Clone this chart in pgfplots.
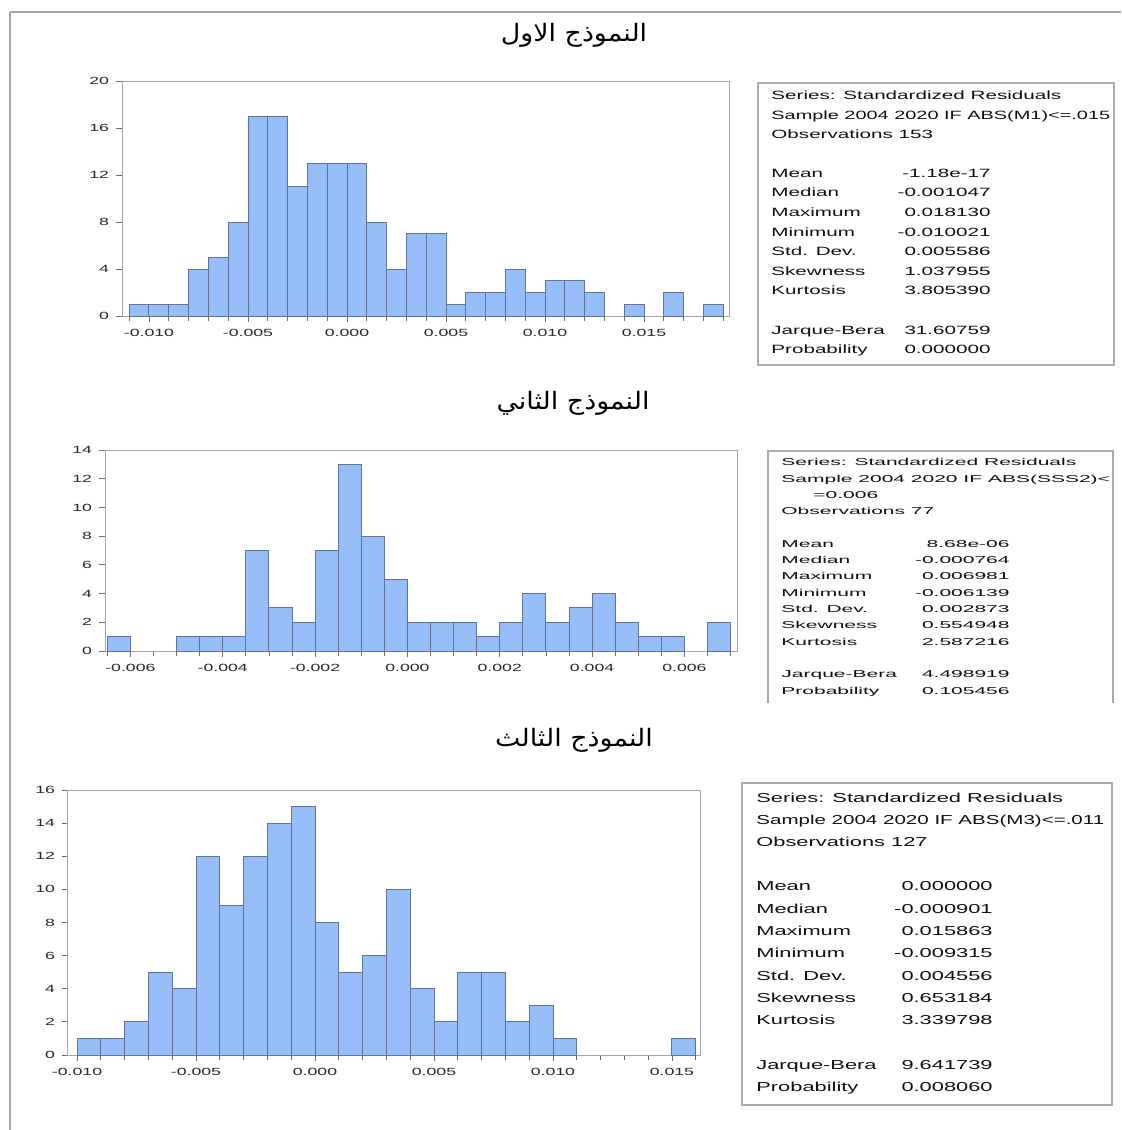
\documentclass[border=0pt]{standalone}
\usepackage{fontspec}
\usepackage{pgfplots}
\pgfplotsset{compat=1.18}
\TeXXeTstate=1
\newfontfamily\arabicfont[Script=Arabic,FakeStretch=1.12]{DejaVu Sans}
\newfontfamily\tickf[FakeStretch=1.7]{Liberation Sans}
\newfontfamily\sA[FakeStretch=1.72]{Liberation Sans}
\newfontfamily\sAs[FakeStretch=1.66]{Liberation Sans}
\newfontfamily\sB[FakeStretch=2.1]{Liberation Sans}
\newfontfamily\sC[FakeStretch=1.68]{Liberation Sans}
\newfontfamily\sCs[FakeStretch=1.58]{Liberation Sans}
\definecolor{barfill}{RGB}{150,190,248}
\definecolor{baredge}{RGB}{95,115,150}
\definecolor{framec}{RGB}{165,165,165}
\definecolor{tickc}{RGB}{110,110,110}
\definecolor{labc}{RGB}{40,40,40}
\definecolor{txtc}{RGB}{15,15,15}
\definecolor{boxc}{RGB}{170,170,170}
\pgfplotsset{
  hist/.style={
    scale only axis, anchor=south west,
    axis line style={framec, line width=0.5pt},
    tick pos=left, tick align=outside,
    major tick length=3pt, minor tick length=2.5pt,
    every tick/.style={tickc, line width=0.4pt},
    ymin=0,
    scaled x ticks=false, scaled y ticks=false,
    tick label style={font=\tickf\fontsize{5.2}{6}\selectfont, text=labc},
    /pgf/number format/assume math mode=true,
  },
  bars/.style={ybar, bar width=0.001, bar shift=0pt, fill=barfill, draw=baredge, line width=0.45pt},
  bars2/.style={ybar, bar width=0.0005, bar shift=0pt, fill=barfill, draw=baredge, line width=0.45pt},
}
\newcommand\srow[6]{%
  \node[anchor=base west,inner sep=0,font=#1,text=txtc] at (#2,#4) {#5};
  \node[anchor=base east,inner sep=0,font=#1,text=txtc] at (#3,#4) {#6};}
\newcommand\sline[4]{\node[anchor=base west,inner sep=0,font=#1,text=txtc] at (#2,#3) {#4};}
\begin{document}
\begin{tikzpicture}
\useasboundingbox (0,0) rectangle (560.5pt,-565pt);

% ---------- Plot 1 ----------
\begin{axis}[hist, at={(61pt,-158pt)}, width=303.5pt, height=117.5pt,
  xmin=-0.01136, xmax=0.01929, ymax=20, ytick={0,4,8,12,16,20},
  xtick={-0.010,-0.005,0,0.005,0.010,0.015},
  xticklabels={-0.010,-0.005,0.000,0.005,0.010,0.015},
  minor xtick={-0.011,-0.009,-0.008,-0.007,-0.006,-0.004,-0.003,-0.002,-0.001,0.001,0.002,0.003,0.004,0.006,0.007,0.008,0.009,0.011,0.012,0.013,0.014,0.016,0.017,0.018,0.019}]
\addplot[bars] coordinates {
(-0.0105,1) (-0.0095,1) (-0.0085,1) (-0.0075,4) (-0.0065,5) (-0.0055,8)
(-0.0045,17) (-0.0035,17) (-0.0025,11) (-0.0015,13) (-0.0005,13) (0.0005,13)
(0.0015,8) (0.0025,4) (0.0035,7) (0.0045,7) (0.0055,1) (0.0065,2) (0.0075,2)
(0.0085,4) (0.0095,2) (0.0105,3) (0.0115,3) (0.0125,2) (0.0145,1) (0.0165,2) (0.0185,1)};
\end{axis}

% ---------- Plot 2 ----------
\begin{axis}[hist, at={(52.5pt,-325.5pt)}, width=316.5pt, height=100.5pt,
  xmin=-0.00655, xmax=0.00716, ymax=14, ytick={0,2,4,6,8,10,12,14},
  xtick={-0.006,-0.004,-0.002,0,0.002,0.004,0.006},
  xticklabels={-0.006,-0.004,-0.002,0.000,0.002,0.004,0.006},
  minor xtick={-0.0065,-0.0055,-0.005,-0.0045,-0.0035,-0.003,-0.0025,-0.0015,-0.001,-0.0005,0.0005,0.001,0.0015,0.0025,0.003,0.0035,0.0045,0.005,0.0055,0.0065,0.007}]
\addplot[bars2] coordinates {
(-0.00625,1) (-0.00475,1) (-0.00425,1) (-0.00375,1) (-0.00325,7) (-0.00275,3)
(-0.00225,2) (-0.00175,7) (-0.00125,13) (-0.00075,8) (-0.00025,5) (0.00025,2)
(0.00075,2) (0.00125,2) (0.00175,1) (0.00225,2) (0.00275,4) (0.00325,2)
(0.00375,3) (0.00425,4) (0.00475,2) (0.00525,1) (0.00575,1) (0.00675,2)};
\end{axis}

% ---------- Plot 3 ----------
\begin{axis}[hist, at={(34pt,-527.5pt)}, width=316pt, height=132.5pt,
  xmin=-0.01038, xmax=0.01618, ymax=16, ytick={0,2,4,6,8,10,12,14,16},
  xtick={-0.010,-0.005,0,0.005,0.010,0.015},
  xticklabels={-0.010,-0.005,0.000,0.005,0.010,0.015},
  minor xtick={-0.009,-0.008,-0.007,-0.006,-0.004,-0.003,-0.002,-0.001,0.001,0.002,0.003,0.004,0.006,0.007,0.008,0.009,0.011,0.012,0.013,0.014,0.016}]
\addplot[bars] coordinates {
(-0.0095,1) (-0.0085,1) (-0.0075,2) (-0.0065,5) (-0.0055,4) (-0.0045,12)
(-0.0035,9) (-0.0025,12) (-0.0015,14) (-0.0005,15) (0.0005,8) (0.0015,5)
(0.0025,6) (0.0035,10) (0.0045,4) (0.0055,2) (0.0065,5) (0.0075,5)
(0.0085,2) (0.0095,3) (0.0105,1) (0.0155,1)};
\end{axis}

\begin{scope}[x=0.5pt,y=-0.5pt]
% page frame
\draw[gray!70, line width=0.8pt] (10,12) -- (1121,12);
\draw[gray!70, line width=0.8pt] (10,12) -- (10,1130);
% titles
\node[font=\arabicfont\fontsize{12}{14}\selectfont] at (574,35) {\beginR النموذج الاول\endR};
\node[font=\arabicfont\fontsize{12}{14}\selectfont] at (573,403) {\beginR النموذج الثاني\endR};
\node[font=\arabicfont\fontsize{12}{14}\selectfont] at (574,740) {\beginR النموذج  الثالث\endR};

% ---------- Box 1 ----------
\draw[boxc, line width=0.6pt] (758,83) rectangle (1114,365);
\def\fa{\sA\fontsize{6}{7}\selectfont}
\sline{\fa}{771}{99}{Series: Standardized Residuals}
\sline{\sAs\fontsize{6}{7}\selectfont}{771}{119}{Sample 2004 2020 IF ABS(M1)<=.015}
\sline{\fa}{771}{138}{Observations 153}
\srow{\fa}{771}{991}{177}{Mean}{-1.18e-17}
\srow{\fa}{771}{991}{196}{Median}{-0.001047}
\srow{\fa}{771}{991}{216}{Maximum}{0.018130}
\srow{\fa}{771}{991}{236}{Minimum}{-0.010021}
\srow{\fa}{771}{991}{255}{Std. Dev.}{0.005586}
\srow{\fa}{771}{991}{275}{Skewness}{1.037955}
\srow{\fa}{771}{991}{294}{Kurtosis}{3.805390}
\srow{\fa}{771}{991}{334}{Jarque-Bera}{31.60759}
\srow{\fa}{771}{991}{353}{Probability}{0.000000}

% ---------- Box 2 ----------
\draw[boxc, line width=0.6pt] (768,703) -- (768,451) -- (1113,451) -- (1113,703);
\def\fb{\sB\fontsize{5}{6}\selectfont}
\sline{\fb}{781}{465}{Series: Standardized Residuals}
\sline{\fb}{781}{482}{Sample 2004 2020 IF ABS(SSS2)<}
\sline{\fb}{813}{498}{=0.006}
\sline{\fb}{781}{514}{Observations 77}
\srow{\fb}{781}{1010}{547}{Mean}{8.68e-06}
\srow{\fb}{781}{1010}{563}{Median}{-0.000764}
\srow{\fb}{781}{1010}{579}{Maximum}{0.006981}
\srow{\fb}{781}{1010}{596}{Minimum}{-0.006139}
\srow{\fb}{781}{1010}{612}{Std. Dev.}{0.002873}
\srow{\fb}{781}{1010}{628}{Skewness}{0.554948}
\srow{\fb}{781}{1010}{645}{Kurtosis}{2.587216}
\srow{\fb}{781}{1010}{677}{Jarque-Bera}{4.498919}
\srow{\fb}{781}{1010}{694}{Probability}{0.105456}

% ---------- Box 3 ----------
\draw[boxc, line width=0.6pt] (742,783) rectangle (1112,1105);
\def\fc{\sC\fontsize{6.5}{7.5}\selectfont}
\sline{\fc}{756}{802}{Series: Standardized Residuals}
\sline{\sCs\fontsize{6.5}{7.5}\selectfont}{756}{824}{Sample 2004 2020 IF ABS(M3)<=.011}
\sline{\fc}{756}{846}{Observations 127}
\srow{\fc}{756}{993}{890}{Mean}{0.000000}
\srow{\fc}{756}{993}{913}{Median}{-0.000901}
\srow{\fc}{756}{993}{935}{Maximum}{0.015863}
\srow{\fc}{756}{993}{957}{Minimum}{-0.009315}
\srow{\fc}{756}{993}{980}{Std. Dev.}{0.004556}
\srow{\fc}{756}{993}{1002}{Skewness}{0.653184}
\srow{\fc}{756}{993}{1024}{Kurtosis}{3.339798}
\srow{\fc}{756}{993}{1069}{Jarque-Bera}{9.641739}
\srow{\fc}{756}{993}{1091}{Probability}{0.008060}
\end{scope}
\end{tikzpicture}
\end{document}
